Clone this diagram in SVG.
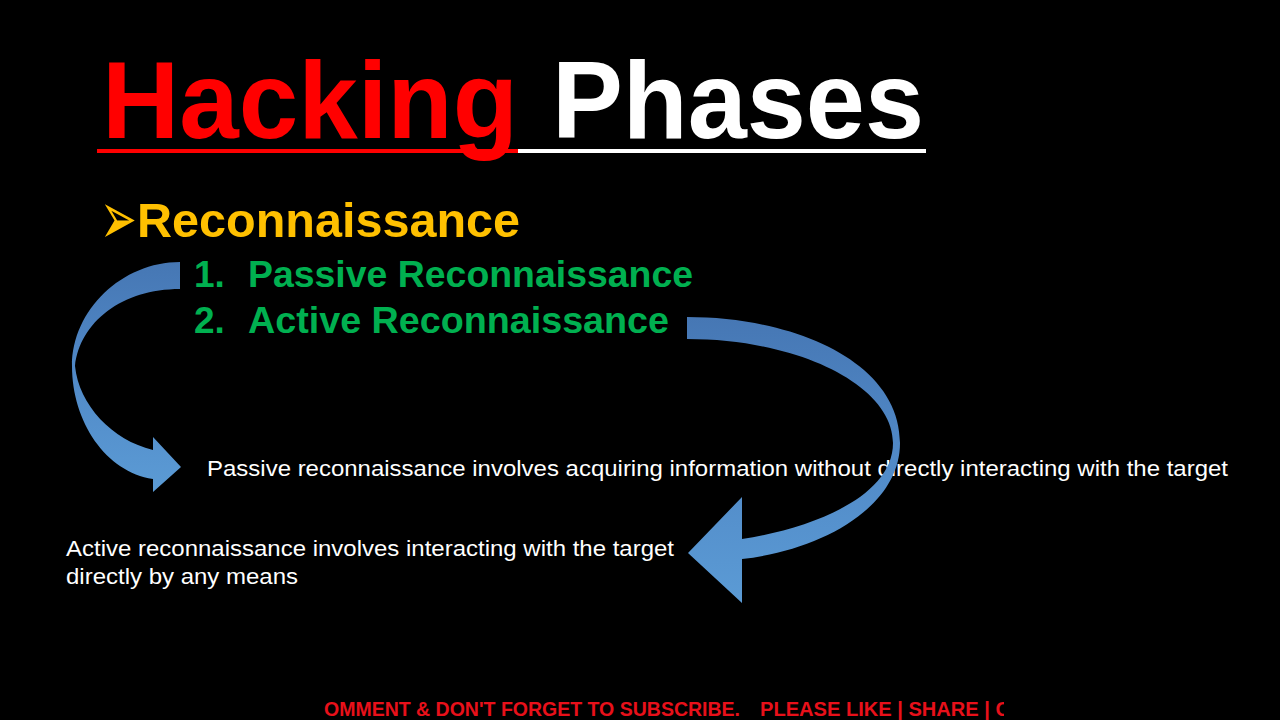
<svg xmlns="http://www.w3.org/2000/svg" width="1280" height="720" viewBox="0 0 1280 720">
<style>
.title{font-family:"Liberation Sans",Arial,sans-serif;font-weight:bold;font-size:109px}
.head{font-family:"Liberation Sans",Arial,sans-serif;font-weight:bold;font-size:48px;fill:#FFC000}
.item{font-family:"Liberation Sans",Arial,sans-serif;font-weight:bold;font-size:37px;fill:#00B050}
.desc{font-family:"Liberation Sans",Arial,sans-serif;font-size:22px;fill:#FFFFFF}
.foot{font-family:"Liberation Sans",Arial,sans-serif;font-weight:bold;font-size:20px;fill:#E8101A}
.arrow{fill:url(#blue)}
</style>
<defs>
<linearGradient id="blue" x1="0" y1="0" x2="0" y2="1">
<stop offset="0" stop-color="#4677B4"/>
<stop offset="0.45" stop-color="#5088C6"/>
<stop offset="1" stop-color="#5B9BD5"/>
</linearGradient>
<clipPath id="footclip"><rect x="0" y="690" width="1004" height="30"/></clipPath>
</defs>
<rect width="1280" height="720" fill="#000000"/>

<g id="title">
<rect x="97" y="149" width="421" height="4" fill="#FF0000"/>
<rect x="518" y="149" width="408" height="4" fill="#FFFFFF"/>
<text class="title" x="102" y="138" fill="#FF0000" textLength="416" lengthAdjust="spacingAndGlyphs">Hacking</text>
<text class="title" x="552" y="138" fill="#FFFFFF" textLength="372" lengthAdjust="spacingAndGlyphs">Phases</text>
</g>

<g id="heading">
<g transform="translate(100,244) scale(1,1.7)">
<text x="0" y="0" style="font-family:'DejaVu Sans',sans-serif;font-size:44px;fill:#FFC000">➢</text>
</g>
<text class="head" x="137" y="237" textLength="383" lengthAdjust="spacingAndGlyphs">Reconnaissance</text>
</g>

<g id="item1">
<text class="item" x="194" y="287">1.</text>
<text class="item" x="248" y="287" textLength="445" lengthAdjust="spacingAndGlyphs">Passive Reconnaissance</text>
</g>

<g id="item2">
<text class="item" x="194" y="333">2.</text>
<text class="item" x="248" y="333" textLength="421" lengthAdjust="spacingAndGlyphs">Active Reconnaissance</text>
</g>

<g id="desc-passive">
<text class="desc" x="207" y="476" textLength="1021" lengthAdjust="spacingAndGlyphs">Passive reconnaissance involves acquiring information without directly interacting with the target</text>
</g>

<g id="desc-active">
<text class="desc" x="66" y="556" textLength="608" lengthAdjust="spacingAndGlyphs">Active reconnaissance involves interacting with the target</text>
<text class="desc" x="66" y="584" textLength="232" lengthAdjust="spacingAndGlyphs">directly by any means</text>
</g>

<g id="connectors">
<path class="arrow" d="M180,262 C122,262 72,310 72,366 C72,422 106,472 153,479 L153,492 L181,467 L153,437 L153,450 C112,440 79,405 75,366 C80,322 122,289 180,289 Z"/>
<path class="arrow" d="M687,317 C795,317 900,362 900,443 C900,507 822,550 742,559 L742,603 L688,553 L742,497 L742,539 C814,528 893,496 893,443 C893,386 800,339 687,339 Z"/>
</g>

<g id="footer" clip-path="url(#footclip)">
<text class="foot" x="324" y="716" textLength="416" lengthAdjust="spacingAndGlyphs">OMMENT &amp; DON'T FORGET TO SUBSCRIBE.</text>
<text class="foot" x="760" y="716" textLength="250" lengthAdjust="spacingAndGlyphs">PLEASE LIKE | SHARE | C</text>
</g>
</svg>
